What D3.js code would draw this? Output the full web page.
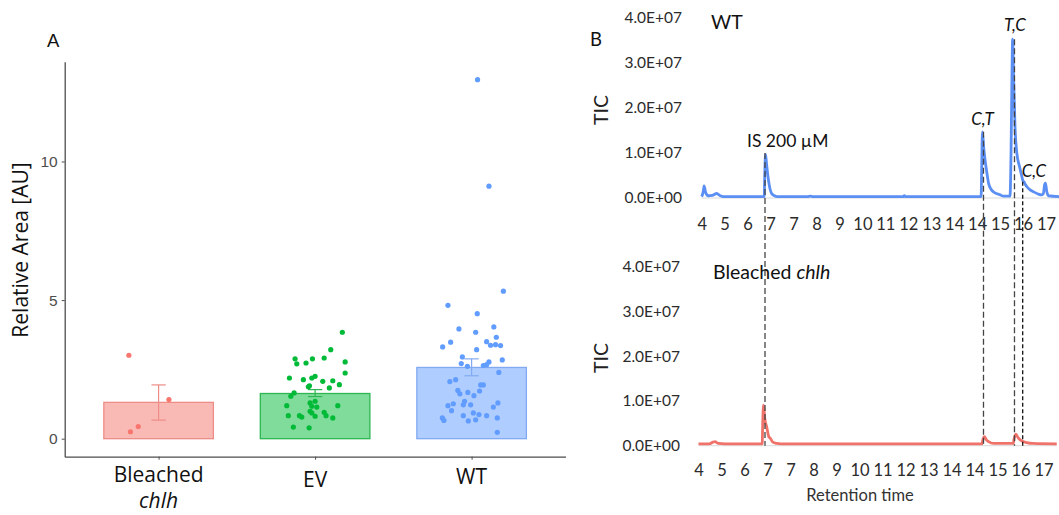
<!DOCTYPE html>
<html><head><meta charset="utf-8">
<script src="https://cdn.jsdelivr.net/npm/d3@7"></script>
<style>body{margin:0;background:#fff}svg{display:block}</style>
</head><body>
<svg id="chart" width="1059" height="515"></svg>
<script>
// ---------- Panel A data ----------
const categories = ["Bleached chlh", "EV", "WT"];
const barMeans = [1.31, 1.63, 2.57];
const barErrLow = [0.67, 1.52, 2.27];
const barErrHigh = [1.94, 1.77, 2.88];
const yTicksA = [0, 5, 10];
// [jitter (category units), value]
const bleachedPoints = [[-0.19, 3.01], [0.066, 1.41], [-0.13, 0.44], [-0.18, 0.25]];
const evPoints = [[0.174,3.84],[0.100,3.21],[-0.128,2.88],[-0.017,2.88],[0.058,2.91],[0.192,2.77],[-0.117,2.70],[-0.058,2.73],[0.192,2.37],[-0.164,2.19],[-0.075,2.13],[-0.021,2.19],[0.0,2.25],[0.049,2.07],[0.113,2.09],[0.155,1.95],[-0.036,1.91],[0.091,1.83],[-0.134,1.65],[-0.155,1.53],[-0.032,1.29],[0.0,1.35],[-0.181,1.19],[0.145,1.19],[-0.021,1.17],[0.011,1.14],[-0.032,0.99],[0.058,0.95],[-0.171,0.83],[-0.100,0.83],[-0.085,0.78],[0.0,0.81],[0.070,0.83],[0.113,0.75],[-0.139,0.42],[-0.038,0.39],[-0.021,0.93],[-0.043,1.87]];
const wtPoints = [[0.038,12.95],[0.111,9.11],[0.203,5.32],[-0.151,4.81],[0.036,4.51],[0.142,4.03],[-0.081,3.96],[0.026,3.84],[0.158,3.66],[0.096,3.50],[-0.134,3.48],[0.121,3.37],[0.153,3.39],[0.185,3.36],[-0.185,3.31],[0.032,3.21],[-0.059,2.95],[0.196,2.84],[-0.066,2.71],[-0.027,2.61],[0.111,2.77],[0.096,2.67],[0.075,2.64],[0.174,2.39],[-0.102,2.13],[-0.139,2.06],[0.058,1.94],[0.075,1.94],[-0.088,1.74],[-0.075,1.62],[-0.024,1.67],[0.051,1.72],[0.015,1.55],[-0.045,1.35],[-0.117,1.26],[-0.151,1.19],[-0.053,1.22],[-0.006,1.22],[0.168,1.29],[0.139,1.14],[-0.128,1.01],[0.011,0.93],[0.047,0.87],[-0.053,0.83],[0.096,0.83],[0.164,0.75],[-0.187,0.75],[-0.177,0.66],[-0.021,0.64],[0.026,0.68],[0.164,0.23]];

// ---------- Panel B data ----------
const xTickLabelsB = ["4","5","6","7","7","8","9","10","11","12","13","14","14","15","16","17"];
const yTickValuesB = [0, 1e7, 2e7, 3e7, 4e7];
const yTickLabelsB = ["0.0E+00","1.0E+07","2.0E+07","3.0E+07","4.0E+07"];
const wtTime = [4.00,4.06,4.09,4.15,4.25,4.40,4.57,4.70,4.82,5.50,6.00,6.36,6.38,6.41,6.45,6.52,6.58,6.64,6.75,6.85,8.00,8.10,8.20,11.60,11.65,11.70,13.50,14.55,14.57,14.60,14.65,14.70,14.77,14.83,14.92,15.01,15.27,15.40,15.64,15.68,15.71,15.74,15.78,15.83,15.90,16.00,16.08,16.13,16.17,16.22,16.28,16.40,16.52,16.70,16.84,16.90,16.95,16.98,17.03,17.10,17.50];
const wtTIC = [0.03,0.15,0.27,0.12,0.05,0.06,0.10,0.05,0.03,0.03,0.03,0.03,0.50,0.97,0.75,0.40,0.20,0.10,0.05,0.03,0.03,0.04,0.03,0.03,0.05,0.03,0.03,0.03,0.60,1.47,1.10,0.84,0.55,0.33,0.20,0.14,0.07,0.04,0.04,1.00,2.50,3.53,2.60,1.58,0.99,0.70,0.50,0.38,0.36,0.30,0.25,0.18,0.14,0.09,0.07,0.10,0.30,0.33,0.14,0.05,0.03].map(v => v * 1e7);
const bleachedTime = [4.00,4.40,4.55,4.62,4.75,5.00,6.00,6.40,6.42,6.45,6.50,6.57,6.65,6.70,6.80,6.95,7.10,14.68,14.71,14.77,14.85,14.93,15.12,15.86,15.89,15.96,16.04,16.12,16.37,16.60,17.50];
const bleachedTIC = [0.04,0.04,0.08,0.09,0.05,0.04,0.04,0.04,0.50,0.91,0.60,0.42,0.20,0.17,0.08,0.05,0.04,0.04,0.12,0.20,0.13,0.09,0.05,0.05,0.15,0.26,0.18,0.13,0.07,0.05,0.04].map(v => v * 1e7);
const markerTimes = [6.39, 14.64, 15.81, 16.12];
const markerTops = [1.0e7, 1.47e7, 3.53e7, 0.36e7];
const markerLabels = ["IS 200 µM", "C,T", "T,C", "C,C"];

const svg = d3.select("#chart");

// ================= Panel A =================
const colPts = ["#F8766D", "#00BA38", "#619CFF"];
const colFill = ["#F9BAB6", "#80DC9B", "#B0CDFF"];
const colStroke = ["#EE8C86", "#2DB651", "#82AAF2"];
const xA = d3.scaleLinear().domain([0.4, 3.6]).range([64.7, 565.5]);
const yA = d3.scaleLinear().domain([-0.65, 13.6]).range([456.7, 61.7]);
const gA = svg.append("g");

gA.selectAll("rect.bar").data(barMeans).join("rect")
  .attr("x", (d, i) => xA(i + 1 - 0.35))
  .attr("width", xA(0.7) - xA(0))
  .attr("y", d => yA(d))
  .attr("height", d => yA(0) - yA(d))
  .attr("fill", (d, i) => colFill[i])
  .attr("stroke", (d, i) => colStroke[i])
  .attr("stroke-width", 1.3);

[bleachedPoints, evPoints, wtPoints].forEach((pts, i) => {
  gA.append("g").selectAll("circle").data(pts).join("circle")
    .attr("cx", d => xA(i + 1 + d[0]))
    .attr("cy", d => yA(d[1]))
    .attr("r", 2.6)
    .attr("fill", colPts[i]);
});

barMeans.forEach((m, i) => {
  const g = gA.append("g").attr("stroke", colStroke[i]).attr("stroke-width", 1.2).attr("fill", "none");
  const cx = xA(i + 1), hw = (xA(0.085) - xA(0)) / 2 + 0.5;
  g.append("line").attr("x1", cx).attr("x2", cx).attr("y1", yA(barErrLow[i])).attr("y2", yA(barErrHigh[i]));
  g.append("line").attr("x1", cx - hw).attr("x2", cx + hw).attr("y1", yA(barErrLow[i])).attr("y2", yA(barErrLow[i]));
  g.append("line").attr("x1", cx - hw).attr("x2", cx + hw).attr("y1", yA(barErrHigh[i])).attr("y2", yA(barErrHigh[i]));
});

const axLA = gA.append("g").attr("transform", `translate(${xA(0.4)},0)`)
  .call(d3.axisLeft(yA).tickValues(yTicksA).tickSize(3).tickSizeOuter(0));
axLA.select(".domain").attr("stroke", "#4D4D4D").attr("stroke-width", 1.3);
axLA.selectAll(".tick line").attr("stroke", "#4D4D4D");
axLA.selectAll(".tick text").attr("font-family", "Liberation Sans, Arial, sans-serif").attr("font-size", 15.5).attr("fill", "#4D4D4D").attr("dx", "-1");

const axBA = gA.append("g").attr("transform", `translate(0,${yA(-0.65)})`)
  .call(d3.axisBottom(xA).tickValues([1, 2, 3]).tickSize(3).tickSizeOuter(0).tickFormat(""));
axBA.select(".domain").attr("stroke", "#4D4D4D").attr("stroke-width", 1.3);
axBA.selectAll(".tick line").attr("stroke", "#4D4D4D");

const catFont = "Open Sans, Liberation Sans, sans-serif";
categories.forEach((c, i) => {
  const t = gA.append("text").attr("text-anchor", "middle").attr("font-family", catFont)
    .attr("font-size", 21).attr("fill", "#111");
  if (c === "Bleached chlh") {
    t.append("tspan").attr("x", xA(i + 1)).attr("y", 482).text("Bleached");
    t.append("tspan").attr("x", xA(i + 1)).attr("y", 508).attr("font-style", "italic").text("chlh");
  } else {
    t.attr("x", xA(i + 1)).attr("y", i === 1 ? 487 : 484).text(c);
  }
});

gA.append("text").attr("transform", "translate(28,250) rotate(-90)")
  .attr("text-anchor", "middle").attr("font-family", catFont).attr("font-size", 21)
  .attr("fill", "#111").text("Relative Area [AU]");
gA.append("text").attr("x", 47).attr("y", 47).attr("font-family", "Liberation Sans, Arial, sans-serif")
  .attr("font-size", 18.5).attr("fill", "#111").text("A");

// ================= Panel B =================
const fontB = "Lato, Open Sans, sans-serif";
const nT = xTickLabelsB.length;
const tickValsB = d3.range(nT).map(i => 4 + i * (17 - 4) / (nT - 1));
const xTop = d3.scaleLinear().domain([4, 17]).range([701.7, 1046]);
const xBot = d3.scaleLinear().domain([4, 17]).range([698.5, 1043.5]);
const yTop = d3.scaleLinear().domain([0, 4e7]).range([198, 18]);
const yBot = d3.scaleLinear().domain([0, 4e7]).range([445.7, 267]);
const gB = svg.append("g");

function drawPanel(xs, ys, times, vals, color, tickRight, xLabY, ticY) {
  const g = gB.append("g");
  const ay = g.append("g").attr("transform", `translate(${tickRight},0)`)
    .call(d3.axisLeft(ys).tickValues(yTickValuesB).tickSize(0).tickPadding(0)
      .tickFormat((d, i) => yTickLabelsB[i]));
  ay.select(".domain").remove();
  ay.selectAll("text").attr("font-family", fontB).attr("font-size", 15.5).attr("fill", "#2b2b2b");
  const ax = g.append("g").attr("transform", `translate(0,${xLabY})`)
    .call(d3.axisBottom(xs).tickValues(tickValsB).tickSize(0).tickPadding(0)
      .tickFormat((d, i) => xTickLabelsB[i]));
  ax.select(".domain").remove();
  ax.selectAll("text").attr("font-family", fontB).attr("font-size", 16.5).attr("fill", "#2b2b2b").attr("dy", "0.35em").attr("y", 0);
  g.append("line").attr("x1", xs(4)).attr("x2", xs(17.5)).attr("y1", ys(0)).attr("y2", ys(0))
    .attr("stroke", "#D9D9D9").attr("stroke-width", 1);
  const line = d3.line().x((d, i) => xs(times[i])).y(d => ys(d)).curve(d3.curveMonotoneX);
  g.append("path").datum(vals).attr("d", line).attr("fill", "none")
    .attr("stroke", color).attr("stroke-width", 2.8).attr("stroke-linejoin", "round");
  g.append("text").attr("transform", `translate(608,${ticY}) rotate(-90)`).attr("text-anchor", "middle")
    .attr("font-family", fontB).attr("font-size", 19.5).attr("fill", "#222").text("TIC");
  return g;
}

drawPanel(xTop, yTop, wtTime, wtTIC, "#5B8FF3", 682, 224, 110);
drawPanel(xBot, yBot, bleachedTime, bleachedTIC, "#F0736B", 680, 470, 358);

// markers (dashed lines)
markerTimes.forEach((t, i) => {
  gB.append("line").attr("x1", xTop(t)).attr("x2", xTop(t))
    .attr("y1", yTop(markerTops[i])).attr("y2", yBot(0))
    .attr("stroke", i === 3 ? "#111" : "#444").attr("stroke-width", 1.3)
    .attr("stroke-dasharray", i === 3 ? "4,2.5" : "6,3");
});
// marker labels
const lab = (i, x, y, anchor, italic) => gB.append("text").attr("x", x).attr("y", y)
  .attr("text-anchor", anchor).attr("font-family", fontB).attr("font-size", italic ? 17 : 17.5)
  .attr("font-style", italic ? "italic" : "normal").attr("fill", "#111").text(markerLabels[i]);
lab(0, xTop(markerTimes[0]) - 18, yTop(markerTops[0]) - 6, "start", false);
lab(1, xTop(markerTimes[1]) - 1, yTop(markerTops[1]) - 7, "middle", true);
lab(2, xTop(markerTimes[2]) + 0.5, yTop(markerTops[2]) - 8, "middle", true);
lab(3, xTop(markerTimes[3]) - 1, yTop(markerTops[3]) - 5, "start", true);

gB.append("text").attr("x", 711).attr("y", 29).attr("font-family", fontB).attr("font-size", 19.5)
  .attr("fill", "#111").text("WT");
const bt = gB.append("text").attr("x", 713).attr("y", 279).attr("font-family", fontB).attr("font-size", 19.5).attr("fill", "#111");
bt.append("tspan").text("Bleached ");
bt.append("tspan").attr("font-style", "italic").text("chlh");
gB.append("text").attr("x", 860).attr("y", 501).attr("text-anchor", "middle").attr("font-family", fontB)
  .attr("font-size", 16.5).attr("fill", "#333").text("Retention time");
gB.append("text").attr("x", 590).attr("y", 46).attr("font-family", fontB).attr("font-size", 18.5)
  .attr("fill", "#111").text("B");
</script>
</body></html>
